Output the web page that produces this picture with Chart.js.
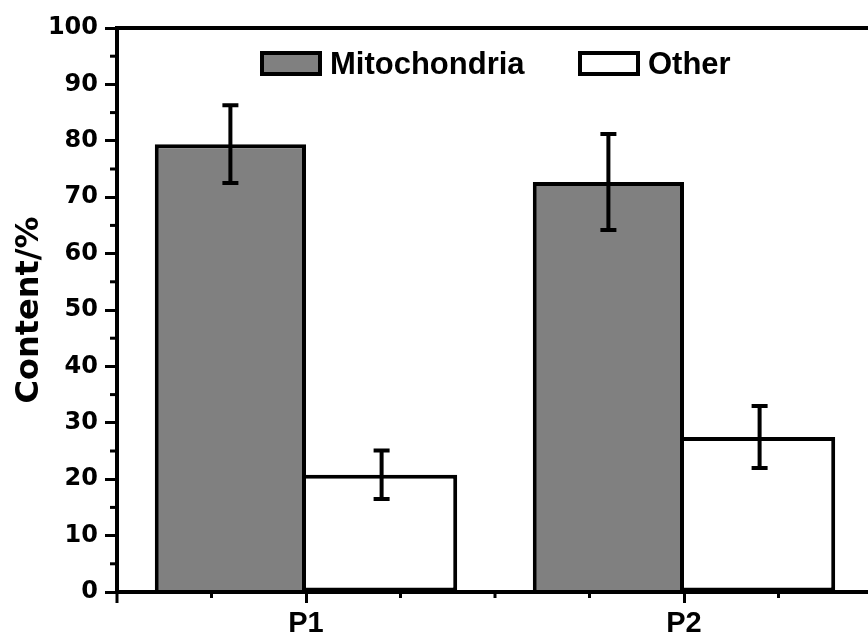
<!DOCTYPE html>
<html>
<head>
<meta charset="utf-8">
<script src="https://cdn.jsdelivr.net/npm/chart.js@4.4.1/dist/chart.umd.min.js"></script>
<style>
  html, body { margin: 0; padding: 0; background: #fff; overflow: hidden; }
</style>
</head>
<body>
<canvas id="myChart" width="880" height="639"></canvas>
<script>
var ctx = document.getElementById('myChart').getContext('2d');

// data
var categories = ["P1", "P2"];
var mitochondria = [79.4, 72.7];
var mitochondriaErr = [6.9, 8.5];
var other = [20.8, 27.5];
var otherErr = [4.3, 5.5];
var yTicks = [0, 10, 20, 30, 40, 50, 60, 70, 80, 90, 100];

var errors = [mitochondriaErr, otherErr];

// error bars, minor ticks, top frame line and legend inside the plot
var extras = {
    id: 'extras',
    afterDatasetsDraw: function(chart) {
        var c = chart.ctx;
        var y = chart.scales.y;
        var x = chart.scales.x;
        var area = chart.chartArea;
        c.save();
        c.strokeStyle = '#000';
        c.lineWidth = 4;
        c.lineCap = 'butt';

        chart.data.datasets.forEach(function(ds, i) {
            var meta = chart.getDatasetMeta(i);
            meta.data.forEach(function(bar, j) {
                var v = ds.data[j];
                var e = errors[i][j];
                var top = y.getPixelForValue(v + e);
                var bot = y.getPixelForValue(v - e);
                c.beginPath();
                c.moveTo(bar.x, top);
                c.lineTo(bar.x, bot);
                c.moveTo(bar.x - 8, top);
                c.lineTo(bar.x + 8, top);
                c.moveTo(bar.x - 8, bot);
                c.lineTo(bar.x + 8, bot);
                c.stroke();
            });
        });

        // top frame line and x axis redrawn over the bars
        c.beginPath();
        c.moveTo(area.left - 2, area.top);
        c.lineTo(area.right, area.top);
        c.moveTo(area.left - 2, area.bottom);
        c.lineTo(area.right, area.bottom);
        c.stroke();

        // minor ticks on y
        c.lineWidth = 3;
        for (var v = 5; v < 100; v += 10) {
            var py = y.getPixelForValue(v);
            c.beginPath();
            c.moveTo(area.left - 7, py);
            c.lineTo(area.left, py);
            c.stroke();
        }

        // minor ticks on x
        var step = x.getPixelForValue(1) - x.getPixelForValue(0);
        var mids = [];
        for (var k = 0; k < categories.length; k++) {
            var cx = x.getPixelForValue(k);
            mids.push(cx - step / 4, cx + step / 4, cx + step / 2);
        }
        mids.forEach(function(px) {
            c.beginPath();
            c.moveTo(px, area.bottom);
            c.lineTo(px, area.bottom + 6);
            c.stroke();
        });
        // tick at axis start
        c.beginPath();
        c.moveTo(area.left, area.bottom);
        c.lineTo(area.left, area.bottom + 11);
        c.stroke();

        // legend
        var items = [
            { x: 262, ds: chart.data.datasets[0] },
            { x: 580, ds: chart.data.datasets[1] }
        ];
        c.font = 'bold 31px "Liberation Sans", Arial, sans-serif';
        c.textBaseline = 'alphabetic';
        items.forEach(function(it) {
            c.fillStyle = it.ds.backgroundColor;
            c.fillRect(it.x, 53, 58, 21);
            c.lineWidth = 4;
            c.strokeRect(it.x, 53, 58, 21);
            c.fillStyle = '#000';
            c.fillText(it.ds.label, it.x + 68, 74);
        });
        c.restore();
    }
};

var chart = new Chart(ctx, {
    type: 'bar',
    data: {
        labels: categories,
        datasets: [{
            label: 'Mitochondria',
            backgroundColor: '#808080',
            borderColor: '#000',
            borderWidth: 4,
            borderSkipped: 'start',
            data: mitochondria
        }, {
            label: 'Other',
            backgroundColor: '#ffffff',
            borderColor: '#000',
            borderWidth: 4,
            borderSkipped: 'left',
            data: other
        }]
    },
    plugins: [extras],
    options: {
        responsive: false,
        animation: false,
        events: [],
        categoryPercentage: 0.8,
        barPercentage: 1.0,
        layout: { padding: { top: 28, right: 7, left: 0, bottom: 0 } },
        plugins: {
            legend: { display: false },
            tooltip: { enabled: false }
        },
        scales: {
            x: {
                offset: true,
                grid: {
                    offset: false,
                    drawOnChartArea: false,
                    drawTicks: true,
                    tickLength: 11,
                    tickWidth: 3,
                    tickColor: '#000'
                },
                border: { color: '#000', width: 4 },
                ticks: {
                    color: '#000',
                    padding: 4,
                    font: { family: '"Liberation Sans", Arial, sans-serif', size: 29, weight: 'bold' }
                },
                afterFit: function(s) { s.height = 47; }
            },
            y: {
                min: 0,
                max: 100,
                afterBuildTicks: function(s) {
                    s.ticks = yTicks.map(function(v) { return { value: v }; });
                },
                grid: {
                    drawOnChartArea: false,
                    drawTicks: true,
                    tickLength: 12,
                    tickWidth: 3,
                    tickColor: '#000'
                },
                border: { color: '#000', width: 4 },
                ticks: {
                    color: '#000',
                    padding: 7,
                    font: { family: '"DejaVu Sans", sans-serif', size: 24, weight: 'bold' }
                },
                title: {
                    display: true,
                    text: 'Content/%',
                    color: '#000',
                    padding: { top: 10, bottom: 0 },
                    font: { family: '"DejaVu Sans", sans-serif', size: 32, weight: 'bold' }
                },
                afterFit: function(s) { s.width = 117; }
            }
        }
    }
});
</script>
</body>
</html>
